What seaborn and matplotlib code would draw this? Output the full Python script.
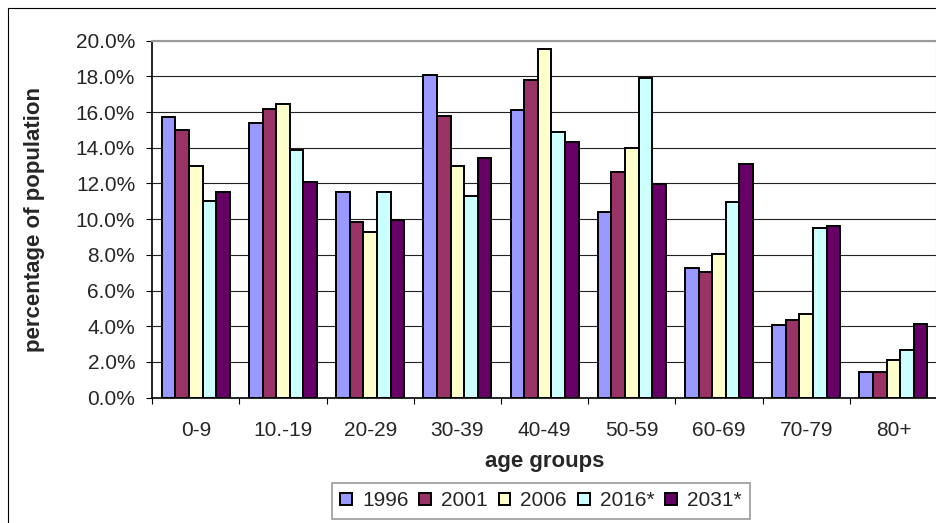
import pandas as pd
import numpy as np
import matplotlib
matplotlib.use("Agg")
import matplotlib.pyplot as plt
from matplotlib.patches import Rectangle
from matplotlib.ticker import FuncFormatter, FixedLocator
import seaborn as sns

# age groups and the population share per census / projection year
age_groups = ['0-9', '10.-19', '20-29', '30-39', '40-49', '50-59', '60-69', '70-79', '80+']
years = ['1996', '2001', '2006', '2016*', '2031*']
share_1996 = [15.7, 15.4, 11.5, 18.1, 16.1, 10.4, 7.25, 4.1, 1.42]
share_2001 = [15.0, 16.2, 9.85, 15.8, 17.8, 12.65, 7.03, 4.34, 1.42]
share_2006 = [13.0, 16.45, 9.28, 13.0, 19.55, 14.0, 8.05, 4.67, 2.11]
share_2016 = [11.0, 13.9, 11.5, 11.3, 14.87, 17.9, 10.95, 9.5, 2.67]
share_2031 = [11.5, 12.1, 9.95, 13.45, 14.33, 11.95, 13.07, 9.6, 4.11]
colors = ['#9999FF', '#993366', '#FFFFCC', '#CCFFFF', '#660066']

# ------------------------------
# long format table for seaborn
# ------------------------------
series = [share_1996, share_2001, share_2006, share_2016, share_2031]
rows = []
for year, vals in zip(years, series):
    for grp, v in zip(age_groups, vals):
        rows.append({'age': grp, 'year': year, 'share': v / 100})
df = pd.DataFrame(rows)

sns.set_theme(style='white')
plt.rcParams['font.family'] = ['Liberation Sans', 'DejaVu Sans']

fig = plt.figure(figsize=(9.37, 5.23), dpi=100)
ax = fig.add_axes([152.3 / 937, 1 - 397.7 / 523, 1 - 152.3 / 937, 357 / 523])

sns.barplot(data=df, x='age', y='share', hue='year', order=age_groups,
            hue_order=years, palette=colors, width=0.78, edgecolor='black',
            linewidth=1.4, saturation=1, ax=ax)

ax.set_ylim(0, 0.20)
ax.set_xlim(-0.5, len(age_groups) - 0.5)
ax.set_yticks(np.arange(0, 0.201, 0.02))
ax.yaxis.set_major_formatter(FuncFormatter(lambda v, p: f'{v * 100:.1f}%'))
ax.grid(axis='y', color='#222222', linewidth=0.8)
ax.set_axisbelow(True)

# ticks at category boundaries, labels at centres
ax.xaxis.set_major_locator(FixedLocator(np.arange(-0.5, len(age_groups), 1.0)))
ax.xaxis.set_minor_locator(FixedLocator(np.arange(len(age_groups))))
ax.set_xticklabels([], minor=False)
ax.set_xticklabels(age_groups, minor=True)
ax.tick_params(axis='x', which='major', direction='out', length=4.3, width=0.8,
               color='black', bottom=True)
ax.tick_params(axis='x', which='minor', length=0, pad=17, labelsize=15)
ax.tick_params(axis='y', direction='out', length=4.3, width=0.8, color='black',
               left=True, pad=8, labelsize=15)

for side in ['left', 'bottom']:
    ax.spines[side].set_color('black')
    ax.spines[side].set_linewidth(1.2)
for side in ['top', 'right']:
    ax.spines[side].set_color('#9a9a9a')
    ax.spines[side].set_linewidth(1.5)

ax.set_ylabel('percentage of population', fontsize=16, fontweight='bold')
ax.yaxis.set_label_coords(-0.1367, 0.5)
ax.set_xlabel('age groups', fontsize=16, fontweight='bold', va='center')
ax.xaxis.set_label_coords(0.5, -0.18)

leg = ax.legend(loc='center', bbox_to_anchor=(0.4953, -0.289), ncol=5,
                fontsize=15, frameon=True, fancybox=False, edgecolor='#808080',
                handlelength=0.56, handleheight=0.56, handletextpad=0.48,
                columnspacing=0.53, borderpad=0.4, title=None)
leg.get_frame().set_linewidth(1.2)
for h in leg.legend_handles:
    h.set_edgecolor('black')
    h.set_linewidth(1.4)

# outer chart border (cropped at right/bottom)
fig.patches.append(Rectangle((8 / 937, -0.1), 2, 1 - 8 / 523 + 0.1,
                             transform=fig.transFigure, fill=False,
                             edgecolor='black', linewidth=0.8))

fig.savefig('out.png', dpi=100)
